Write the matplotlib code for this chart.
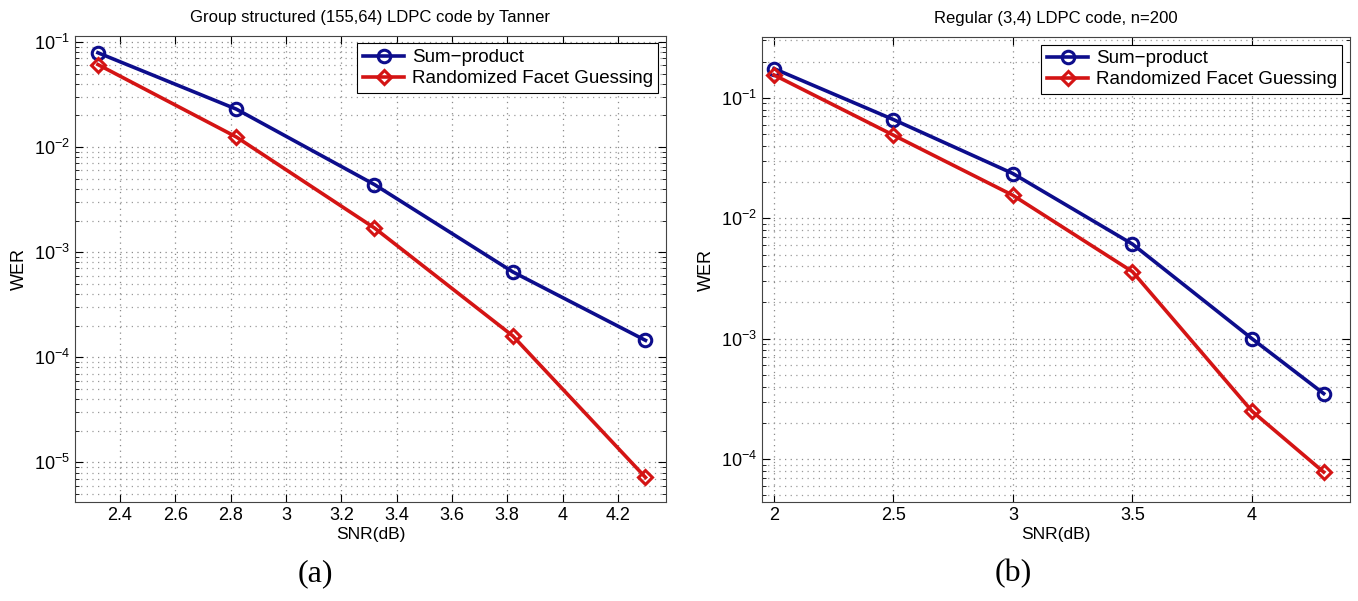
import matplotlib
matplotlib.use("Agg")
import matplotlib.pyplot as plt
from matplotlib.ticker import LogLocator, NullFormatter

plt.rcParams['font.family'] = ['Liberation Sans', 'DejaVu Sans']

# (a) Group structured (155,64) LDPC code by Tanner
snr_a = [2.32, 2.82, 3.32, 3.82, 4.30]
sp_a = [0.079, 0.023, 0.0044, 6.5e-4, 1.45e-4]
rfg_a = [0.061, 0.0125, 0.0017, 1.6e-4, 7.2e-6]
xticks_a = [2.4, 2.6, 2.8, 3.0, 3.2, 3.4, 3.6, 3.8, 4.0, 4.2]
xtlabels_a = ['2.4', '2.6', '2.8', '3', '3.2', '3.4', '3.6', '3.8', '4', '4.2']

# (b) Regular (3,4) LDPC code, n=200
snr_b = [2.0, 2.5, 3.0, 3.5, 4.0, 4.3]
sp_b = [0.175, 0.066, 0.0235, 0.0061, 1.0e-3, 3.5e-4]
rfg_b = [0.155, 0.049, 0.0155, 0.0036, 2.5e-4, 7.8e-5]
xticks_b = [2.0, 2.5, 3.0, 3.5, 4.0]
xtlabels_b = ['2', '2.5', '3', '3.5', '4']

labels = ['Sum\u2212product', 'Randomized Facet Guessing']
blue = '#0d0d8c'
red = '#d41414'

fig = plt.figure(figsize=(13.58, 6.01), dpi=100)
ax1 = fig.add_axes([0.0552, 0.1647, 0.4352, 0.7754])
ax2 = fig.add_axes([0.5611, 0.1647, 0.4330, 0.7737])


def setup(ax, snr, sp, rfg, xt, xtl, xlim, ylim, title):
    ax.semilogy(snr, sp, '-o', color=blue, lw=2.6, ms=9, mew=2.2,
                mfc='none', label=labels[0])
    ax.semilogy(snr, rfg, '-D', color=red, lw=2.6, ms=7.5, mew=2.2,
                mfc='none', label=labels[1])
    ax.set_xlim(*xlim)
    ax.set_ylim(*ylim)
    ax.set_xticks(xt)
    ax.set_xticklabels(xtl)
    ax.yaxis.set_major_locator(LogLocator(base=10, numticks=20))
    ax.yaxis.set_minor_locator(LogLocator(base=10, subs=range(2, 10), numticks=20))
    ax.yaxis.set_minor_formatter(NullFormatter())
    ax.grid(True, which='major', color='#8a8a8a', lw=0.9, dashes=(1, 3.5))
    ax.grid(True, which='minor', axis='y', color='#9a9a9a', lw=0.9,
            dashes=(1, 3.5))
    ax.tick_params(direction='in', which='both', top=True, right=True,
                   labelsize=13)
    ax.tick_params(which='major', length=6)
    ax.tick_params(which='minor', length=3)
    for s in ax.spines.values():
        s.set_color('#444444')
    ax.set_title(title, fontsize=12, pad=10)
    ax.set_xlabel('SNR(dB)', fontsize=12.5, labelpad=2)
    ax.set_ylabel('WER', fontsize=13)
    leg = ax.legend(loc='upper right', fontsize=13.5, fancybox=False,
                    framealpha=1, edgecolor='black', borderaxespad=0.4,
                    handlelength=2.2, handletextpad=0.4, borderpad=0.3,
                    labelspacing=0.2)
    leg.get_frame().set_linewidth(0.8)


setup(ax1, snr_a, sp_a, rfg_a, xticks_a, xtlabels_a, (2.237, 4.374),
      (4.2e-6, 0.114), 'Group structured (155,64) LDPC code by Tanner')
setup(ax2, snr_b, sp_b, rfg_b, xticks_b, xtlabels_b, (1.95, 4.41),
      (4.4e-5, 0.32), 'Regular (3,4) LDPC code, n=200')

fig.text(0.232, 0.045, '(a)', fontsize=23, family='Liberation Serif',
         ha='center', va='center')
fig.text(0.746, 0.045, '(b)', fontsize=23, family='Liberation Serif',
         ha='center', va='center')

fig.savefig('out.png', dpi=100)
